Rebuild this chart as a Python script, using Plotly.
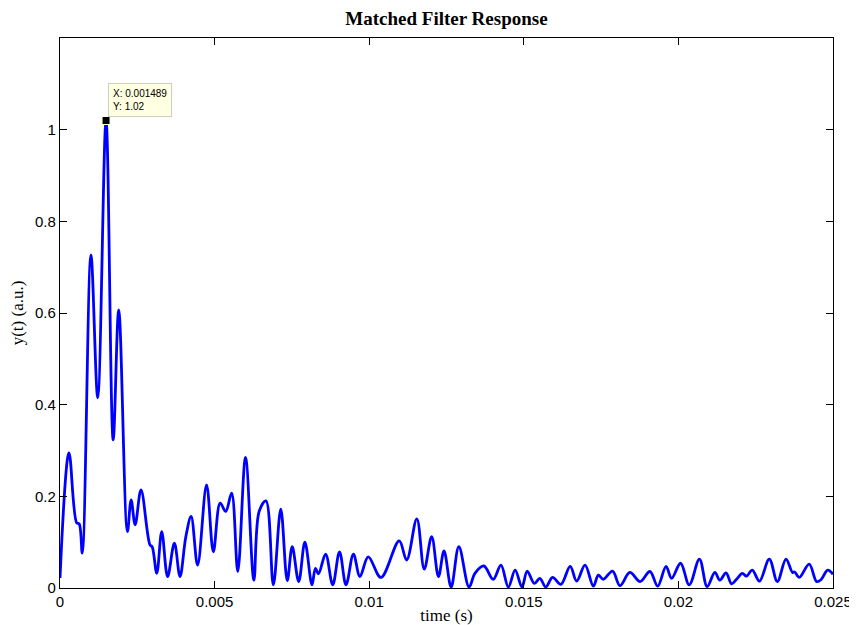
import plotly.graph_objects as go

# Time (s) and response (a.u.) at peaks / troughs
time_s = [0.0, 0.00029, 0.00054, 0.00062, 0.00072, 0.0010, 0.00122, 0.001489, 0.00172, 0.0019,
          0.00218, 0.0023, 0.00243, 0.00262, 0.00291, 0.00298, 0.00313, 0.00329, 0.00348, 0.0037,
          0.00388, 0.00407, 0.00424, 0.00445, 0.00474, 0.00496, 0.00518, 0.00536, 0.00555, 0.00575,
          0.0060, 0.00627, 0.00644, 0.00666, 0.0069, 0.00714, 0.00735, 0.00751, 0.00772, 0.00792,
          0.00815, 0.00826, 0.00836, 0.00859, 0.00882, 0.00904, 0.00925, 0.00949, 0.0097, 0.00997,
          0.01038, 0.01097, 0.01121, 0.01154, 0.01178, 0.01202, 0.01224, 0.01242, 0.01265, 0.0129,
          0.01323, 0.01342, 0.01371, 0.01401, 0.01426, 0.0145, 0.01472, 0.01494, 0.01511, 0.01534,
          0.01552, 0.01571, 0.01593, 0.0162, 0.0165, 0.01671, 0.01698, 0.01725, 0.01741, 0.01757,
          0.01787, 0.01811, 0.01843, 0.01876, 0.01908, 0.01933, 0.0196, 0.01978, 0.02007, 0.02035,
          0.02068, 0.02093, 0.02118, 0.02134, 0.02154, 0.02172, 0.02188, 0.02207, 0.0222, 0.02239,
          0.02262, 0.02294, 0.0232, 0.02348, 0.02369, 0.02376, 0.02391, 0.02423, 0.02447, 0.02461,
          0.02483, 0.025]
response = [0.022, 0.295, 0.142, 0.140, 0.076, 0.727, 0.415, 1.02, 0.323, 0.607,
            0.123, 0.192, 0.138, 0.214, 0.094, 0.090, 0.032, 0.123, 0.025, 0.098,
            0.025, 0.112, 0.156, 0.050, 0.225, 0.079, 0.185, 0.167, 0.207, 0.036,
            0.285, 0.017, 0.167, 0.190, 0.007, 0.172, 0.016, 0.090, 0.014, 0.100,
            0.007, 0.043, 0.031, 0.074, 0.007, 0.079, 0.007, 0.074, 0.025, 0.068,
            0.023, 0.103, 0.061, 0.151, 0.041, 0.112, 0.025, 0.081, 0.002, 0.090,
            0.002, 0.032, 0.048, 0.019, 0.050, 0.002, 0.039, 0.002, 0.037, 0.010,
            0.021, 0.002, 0.023, 0.008, 0.047, 0.015, 0.050, 0.004, 0.028, 0.019,
            0.037, 0.005, 0.034, 0.014, 0.036, 0.004, 0.047, 0.021, 0.054, 0.007,
            0.063, 0.003, 0.034, 0.017, 0.033, 0.009, 0.019, 0.032, 0.026, 0.039,
            0.015, 0.063, 0.014, 0.063, 0.034, 0.035, 0.023, 0.052, 0.014, 0.018,
            0.039, 0.030]

peak_t = 0.001489
peak_y = 1.02

x_ticks = [0, 0.005, 0.01, 0.015, 0.02, 0.025]
x_tick_labels = ["0", "0.005", "0.01", "0.015", "0.02", "0.025"]
y_ticks = [0, 0.2, 0.4, 0.6, 0.8, 1.0]
y_tick_labels = ["0", "0.2", "0.4", "0.6", "0.8", "1"]

fig = go.Figure()
fig.add_trace(go.Scatter(
    x=time_s, y=response, mode="lines",
    line=dict(color="#0000ff", width=2.8, shape="spline", smoothing=1.0),
    hoverinfo="x+y", showlegend=False))
fig.add_trace(go.Scatter(
    x=[peak_t], y=[peak_y], mode="markers",
    marker=dict(symbol="square", size=8, color="black",
                line=dict(color="#ffffe1", width=1)),
    showlegend=False))

fig.add_annotation(
    x=peak_t, y=peak_y, xref="x", yref="y",
    text="X: 0.001489<br>Y: 1.02", showarrow=False,
    xanchor="left", yanchor="bottom", xshift=2, yshift=4, align="left",
    font=dict(family="Liberation Sans, Arial, sans-serif", size=10, color="black"),
    bgcolor="#ffffe1", bordercolor="#d0d0c0", borderwidth=1, borderpad=4)

axis_common = dict(
    showline=True, linecolor="black", linewidth=1.2, mirror="ticks",
    ticks="inside", ticklen=7, tickwidth=1, tickcolor="black",
    showgrid=False, zeroline=False, automargin=False,
    tickfont=dict(family="Liberation Sans, Arial, sans-serif", size=15, color="black"))

fig.update_xaxes(
    range=[0, 0.025], tickvals=x_ticks, ticktext=x_tick_labels,
    title=dict(text="time (s)", standoff=6,
               font=dict(family="Liberation Serif, Times New Roman, serif", size=17, color="black")),
    **axis_common)
fig.update_yaxes(
    range=[0, 1.2], tickvals=y_ticks, ticktext=y_tick_labels,
    title=dict(text="y(t) (a.u.)", standoff=7,
               font=dict(family="Liberation Serif, Times New Roman, serif", size=17, color="black")),
    **axis_common)

# page body adds an 8 px offset; size the figure to fit the window exactly
fig.update_layout(
    width=849, height=617,
    margin=dict(l=52, r=24, t=30, b=37, autoexpand=False),
    paper_bgcolor="white", plot_bgcolor="white",
    title=dict(text="<b>Matched Filter Response</b>", x=0.5, xanchor="center",
               xref="paper", yref="container", y=1 - 10 / 617, yanchor="middle",
               font=dict(family="Liberation Serif, Times New Roman, serif", size=19, color="black")),
)

fig.write_html("out.html")
